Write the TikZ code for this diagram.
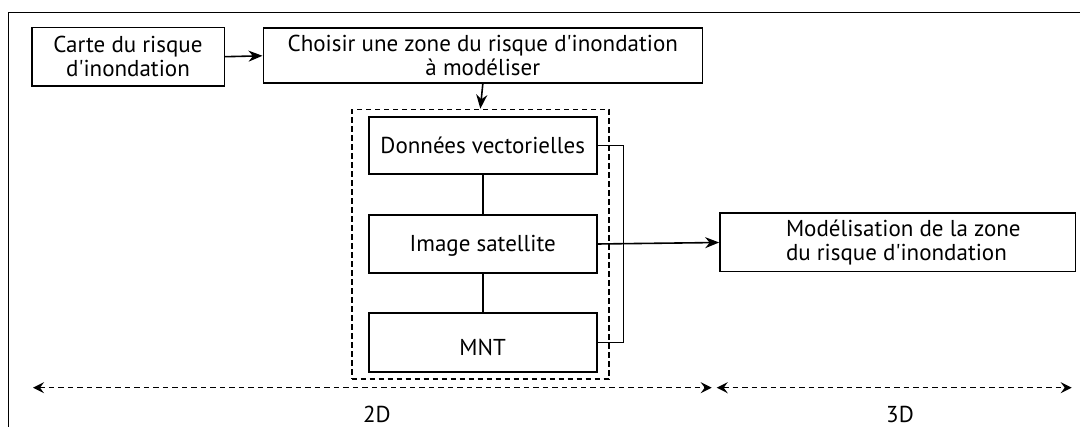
\documentclass[tikz,border=0pt]{standalone}
\usepackage{fontspec}
\setmainfont{PT Sans}
\usetikzlibrary{arrows.meta}
\newcommand{\ap}{\textquotesingle}
\begin{document}
\begin{tikzpicture}[x=1pt,y=-1pt,
  box/.style={draw,line width=1.6pt,inner sep=0pt,align=center,font=\fontsize{23}{24}\selectfont},
  one/.style={text height=16pt,text depth=0pt},
  conn/.style={line width=1.6pt},
  arr/.style={line width=1.6pt,-{Stealth[length=14pt,width=11pt,inset=4.5pt]}},
  span/.style={line width=1.6pt,dash pattern=on 5.5pt off 4pt,{Stealth[length=11pt,width=11pt,inset=4pt]}-{Stealth[length=11pt,width=11pt,inset=4pt]}},
  lab/.style={font=\fontsize{23}{24}\selectfont,inner sep=0pt}]
\useasboundingbox (0,0) rectangle (1080,427);
% frame
\draw[line width=1.8pt] (8.5,427) -- (8.5,12.5) -- (1080,12.5);
% nodes
\node[box,minimum width=192.6pt,minimum height=58.7pt] (carte) at (128,56.7) {Carte du risque\\d\ap inondation};
\node[box,minimum width=439pt,minimum height=55pt] (choisir) at (482.8,55.8) {Choisir une zone du risque d\ap inondation\\à modéliser};
\node[draw,line width=1.6pt,dash pattern=on 5.5pt off 3.5pt,minimum width=257.3pt,minimum height=269.8pt,inner sep=0pt] (grp) at (480.35,244.4) {};
\node[box,one,minimum width=228pt,minimum height=57pt] (don) at (482.7,145.6) {Données vectorielles};
\node[box,one,minimum width=228pt,minimum height=58pt] (img) at (482.7,244) {Image satellite};
\node[box,one,minimum width=228pt,minimum height=58.5pt,text height=27pt] (mnt) at (482.7,342.5) {MNT};
\node[box,minimum width=355.7pt,minimum height=58.4pt,align=left] (model) at (897.8,242.5) {\hspace*{11pt}Modélisation de la zone\\\hspace*{11pt}du risque d\ap inondation};
% connectors
\draw[arr] (carte.east) -- (choisir.west);
\draw[arr] (choisir.south) -- (grp.north);
\draw[conn] (don.south) -- (img.north);
\draw[conn] (img.south) -- (mnt.north);
\draw[conn] (don.east) -- ++(26,0) |- (mnt.east);
\draw[arr] (img.east) -- (model.west);
% spans
\coordinate (a1) at (33,387.7);
\coordinate (a2) at (711.7,387.7);
\coordinate (b1) at (716.7,387.7);
\coordinate (b2) at (1071.7,387.7);
\draw[span] (a1) -- (a2);
\draw[span] (b1) -- (b2);
\node[lab] (l2d) at (377,414) {2D};
\node[lab] (l3d) at (900,414) {3D};
\end{tikzpicture}
\end{document}
